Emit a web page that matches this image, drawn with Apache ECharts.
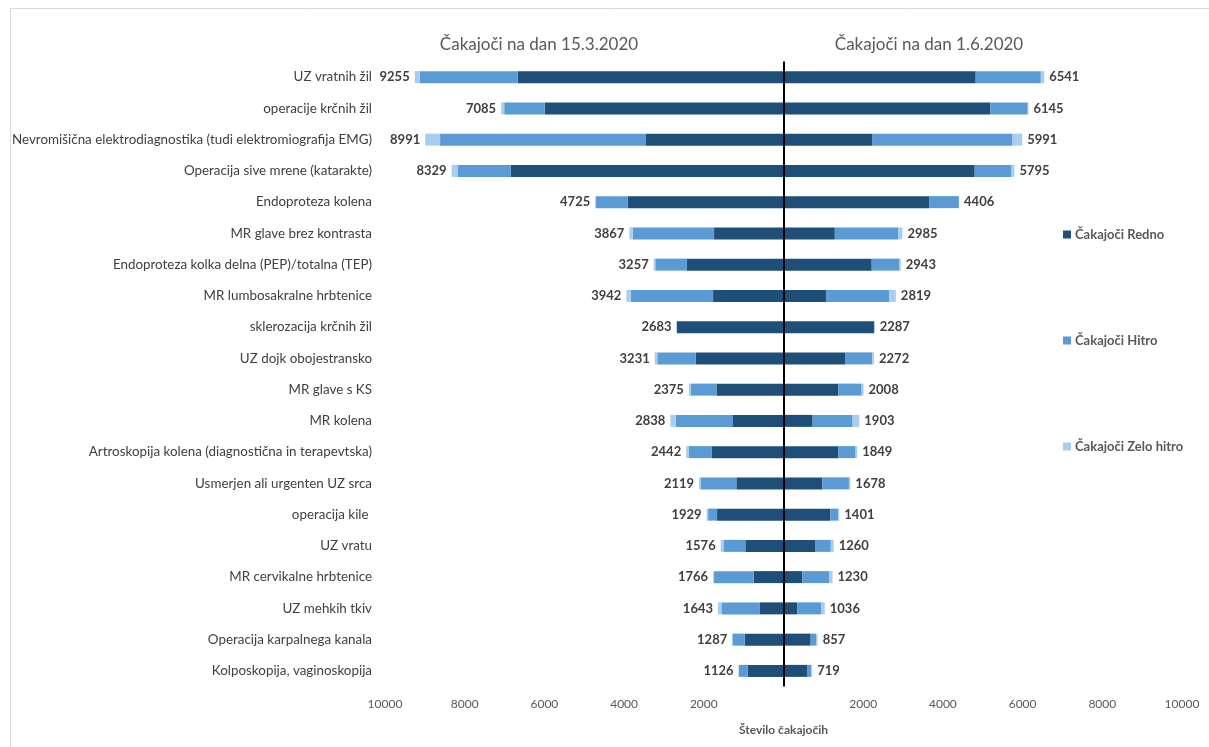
<!DOCTYPE html>
<html>
<head>
<meta charset="utf-8">
<title>Čakajoči</title>
<script src="https://cdn.jsdelivr.net/npm/echarts@6/dist/echarts.min.js"></script>
<style>
  html, body { margin: 0; padding: 0; background: #fff; }
  #chart { width: 1209px; height: 747px; }
</style>
</head>
<body>
<div id="chart"></div>
<script>
// Storitve (od zgoraj navzdol)
const categories = [
  'UZ vratnih žil',
  'operacije krčnih žil',
  'Nevromišična elektrodiagnostika (tudi elektromiografija EMG)',
  'Operacija sive mrene (katarakte)',
  'Endoproteza kolena',
  'MR glave brez kontrasta',
  'Endoproteza kolka delna (PEP)/totalna (TEP)',
  'MR lumbosakralne hrbtenice',
  'sklerozacija krčnih žil',
  'UZ dojk obojestransko',
  'MR glave s KS',
  'MR kolena',
  'Artroskopija kolena (diagnostična in terapevtska)',
  'Usmerjen ali urgenten UZ srca',
  'operacija kile ',
  'UZ vratu',
  'MR cervikalne hrbtenice',
  'UZ mehkih tkiv',
  'Operacija karpalnega kanala',
  'Kolposkopija, vaginoskopija'
];

// Čakajoči na dan 15.3.2020
const marchRedno     = [6668, 5993, 3450, 6850, 3905, 1742, 2425, 1767, 2675, 2200, 1683, 1267, 1808, 1183, 1667, 958, 750, 592, 975, 900];
const marchHitro     = [2458, 1015, 5168, 1333, 805, 2040, 792, 2066, 8, 967, 650, 1433, 575, 900, 225, 550, 992, 965, 305, 222];
const marchZeloHitro = [129, 77, 373, 146, 15, 85, 40, 109, 0, 64, 42, 138, 59, 36, 37, 68, 24, 86, 7, 4];

// Čakajoči na dan 1.6.2020
const juneRedno     = [4823, 5185, 2222, 4798, 3665, 1288, 2214, 1068, 2270, 1558, 1371, 732, 1371, 977, 1170, 791, 471, 345, 682, 589];
const juneHitro     = [1634, 944, 3527, 926, 736, 1591, 697, 1583, 12, 672, 591, 1003, 439, 665, 202, 396, 673, 597, 143, 111];
const juneZeloHitro = [84, 16, 242, 71, 5, 106, 32, 168, 5, 42, 46, 168, 39, 36, 29, 73, 86, 94, 32, 19];

const xTicks = [-10000, -8000, -6000, -4000, -2000, 0, 2000, 4000, 6000, 8000, 10000];

const colRedno = '#1F4E79';
const colHitro = '#5B9BD5';
const colZelo  = '#A9CDEE';
const FONT = 'Lato, "Open Sans", sans-serif';

const marchTotal = categories.map((_, i) => marchRedno[i] + marchHitro[i] + marchZeloHitro[i]);
const juneTotal  = categories.map((_, i) => juneRedno[i] + juneHitro[i] + juneZeloHitro[i]);

const neg = arr => arr.map(v => -v);

const valueLabel = (totals, pos) => ({
  show: true,
  position: pos,
  distance: 5,
  fontFamily: FONT,
  fontSize: 13,
  fontWeight: 'bold',
  color: '#404040',
  formatter: p => String(totals[p.dataIndex])
});

function bar(name, data, stack, color, extra) {
  return Object.assign({
    name, type: 'bar', stack, data,
    barWidth: 12,
    barGap: '-100%',
    itemStyle: { color },
    emphasis: { disabled: true }
  }, extra || {});
}

const chart = echarts.init(document.getElementById('chart'));
chart.setOption({
  animation: false,
  backgroundColor: '#fff',
  textStyle: { fontFamily: FONT },
  graphic: [{
    type: 'rect',
    shape: { x: 10.5, y: 8.5, width: 1300, height: 900 },
    style: { fill: 'none', stroke: '#d9d9d9', lineWidth: 1 },
    silent: true, z: -1
  }],
  title: [
    { text: 'Čakajoči na dan 15.3.2020', left: 534, top: 31, textAlign: 'center',
      textStyle: { fontFamily: FONT, fontSize: 17, fontWeight: 'normal', color: '#595959' } },
    { text: 'Čakajoči na dan 1.6.2020', left: 924, top: 31, textAlign: 'center',
      textStyle: { fontFamily: FONT, fontSize: 17, fontWeight: 'normal', color: '#595959' } }
  ],
  legend: {
    orient: 'vertical',
    left: 1058,
    top: 223,
    itemGap: 93,
    itemWidth: 8,
    itemHeight: 8,
    icon: 'rect',
    selectedMode: false,
    data: ['Čakajoči Redno', 'Čakajoči Hitro', 'Čakajoči Zelo hitro'],
    textStyle: { fontFamily: FONT, fontSize: 13, fontWeight: 'bold', color: '#595959', padding: [0, 0, 0, -1] }
  },
  grid: { left: 385, right: 27, top: 61.5, bottom: 60.5, containLabel: false },
  xAxis: {
    type: 'value',
    min: -10000, max: 10000, interval: 2000,
    name: 'Število čakajočih',
    nameLocation: 'middle',
    nameGap: 38,
    nameTextStyle: { fontFamily: FONT, fontSize: 12, fontWeight: 'bold', color: '#595959' },
    axisLine: { show: false },
    axisTick: { show: false },
    splitLine: { show: false },
    axisLabel: {
      margin: 12,
      fontFamily: FONT, fontSize: 12, color: '#595959',
      customValues: xTicks,
      formatter: v => (v === 0 ? '' : String(Math.abs(v)))
    }
  },
  yAxis: {
    type: 'category',
    data: categories,
    inverse: true,
    axisLine: { show: false },
    axisTick: { show: false },
    axisLabel: { margin: 13, fontFamily: FONT, fontSize: 13.4, color: '#404040' }
  },
  series: [
    bar('Čakajoči Redno', neg(marchRedno), 'm', colRedno, {
      markLine: {
        silent: true, symbol: 'none', label: { show: false },
        lineStyle: { color: '#000', width: 2, type: 'solid' },
        data: [{ xAxis: 0 }]
      }
    }),
    bar('Čakajoči Hitro', neg(marchHitro), 'm', colHitro),
    bar('Čakajoči Zelo hitro', neg(marchZeloHitro), 'm', colZelo, { label: valueLabel(marchTotal, 'left') }),
    bar('Čakajoči Redno', juneRedno, 'j', colRedno),
    bar('Čakajoči Hitro', juneHitro, 'j', colHitro),
    bar('Čakajoči Zelo hitro', juneZeloHitro, 'j', colZelo, { label: valueLabel(juneTotal, 'right') })
  ]
});
</script>
</body>
</html>
